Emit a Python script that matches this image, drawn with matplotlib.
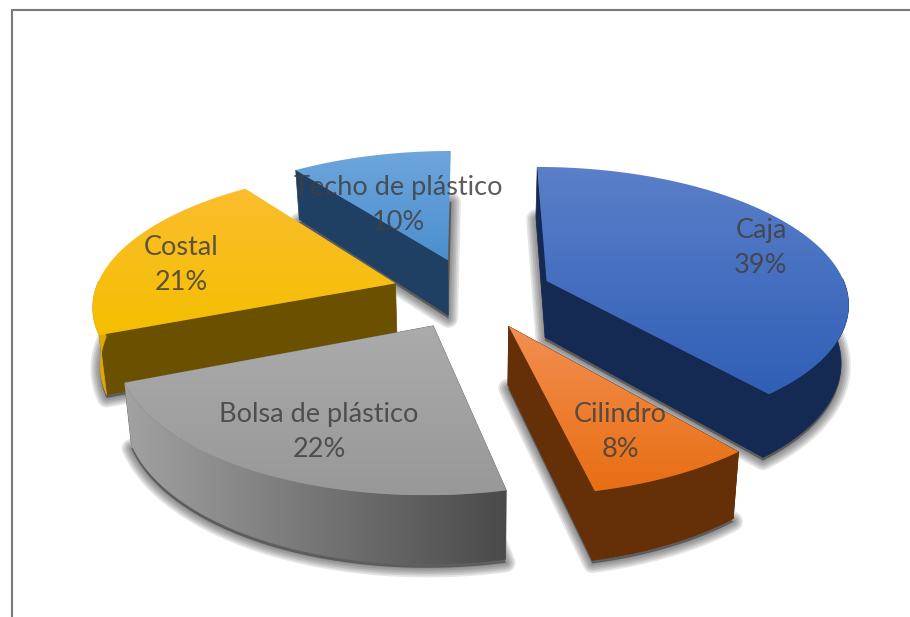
import numpy as np
import matplotlib
matplotlib.use("Agg")
import matplotlib.pyplot as plt
from matplotlib.colors import LinearSegmentedColormap
from matplotlib.patches import Polygon, PathPatch
from matplotlib.path import Path

plt.rcParams['font.family'] = ['Lato', 'DejaVu Sans']

# datos del grafico (valores estimados, las etiquetas los redondean)
categorias = ["Caja", "Cilindro", "Bolsa de plástico", "Costal", "Techo de plástico"]
valores = [39, 7.5, 22.4, 21, 10.1]

# colores: cara superior (arriba, abajo) y pared
sup_colores = [("#5b7fc9", "#2f5fb6"), ("#f28f52", "#e86e12"), ("#ababab", "#989898"),
               ("#fbbd2e", "#f4bf00"), ("#6ea6dc", "#4a8fcf")]
pared_colores = ["#142a52", "#652f08", "#666666", "#6b5000", "#1f3f63"]
borde_colores = ["#142a52", "#652f08", "#666666", "#dcaa08", "#1f3f63"]

# posicion de las etiquetas en pixeles
etiqueta_x = [761, 620, 319, 181, 398]
etiqueta_y = [248, 432, 432, 265, 205]

# parametros de la perspectiva
cx, cy = 472, 293
rx, ry = 301, 134
k = 0.146
h = 57
esc_fondo = 0.98
explota = 0.267


def proyecta(x, y, fondo=False):
    d = 1 + k * y
    sx = cx + rx * x / d
    sy = cy - ry * y / d
    if fondo:
        sx = cx + (sx - cx) * esc_fondo
        sy = sy + h / d
    return np.column_stack([sx, sy])


def degradado(ax, pts, c1, c2, z, horizontal=False):
    cmap = LinearSegmentedColormap.from_list("g", [c1, c2])
    g = np.linspace(0, 1, 256)
    g = g.reshape(1, -1) if horizontal else g.reshape(-1, 1)
    x0, x1 = pts[:, 0].min(), pts[:, 0].max()
    y0, y1 = pts[:, 1].min(), pts[:, 1].max()
    im = ax.imshow(g, cmap=cmap, extent=[x0, x1, y1, y0], aspect="auto",
                   origin="upper", zorder=z, interpolation="bilinear")
    parche = PathPatch(Path(np.vstack([pts, pts[0]])), fc="none", ec="none",
                       transform=ax.transData)
    ax.add_patch(parche)
    im.set_clip_path(parche)


fig = plt.figure(figsize=(9.10, 6.17), dpi=100)
ax = fig.add_axes([0, 0, 1, 1])
ax.axis("off")

# angulos de cada sector, desde arriba en sentido horario
total = sum(valores)
limites = np.radians(np.cumsum([0] + valores) * 360 / total)

orden = [4, 3, 0, 1, 2]
z = 2
for i in orden:
    a0, a1 = limites[i], limites[i + 1]
    medio = (a0 + a1) / 2
    ox, oy = explota * np.sin(medio), explota * np.cos(medio)
    t = np.linspace(a0, a1, 80)
    arco_x = ox + np.sin(t)
    arco_y = oy + np.cos(t)
    x = np.r_[ox, arco_x]
    y = np.r_[oy, arco_y]
    arriba = proyecta(x, y)
    abajo = proyecta(x, y, True)

    # sombra difusa bajo la base
    for lw in np.arange(14, 1, -2.5):
        ax.add_patch(Polygon(abajo + [0, 3], closed=True, fc="#303030", ec="#303030",
                             lw=lw, alpha=0.12, joinstyle="round", zorder=z))
    z += 1

    # paredes radiales, sin la que queda detras en los sectores de arriba a la izquierda
    for j in [1, -1]:
        if j == -1 and a1 > 1.5 * np.pi:
            continue
        cara = np.vstack([arriba[0], arriba[j], abajo[j], abajo[0]])
        ax.add_patch(Polygon(cara, closed=True, fc=pared_colores[i], ec=pared_colores[i],
                             lw=0.5, zorder=z))
    z += 1

    # pared curva, solo la parte que mira hacia delante
    vis = np.cos(t) < 0.03
    if vis.any():
        pared = np.vstack([proyecta(arco_x[vis], arco_y[vis]),
                           proyecta(arco_x[vis], arco_y[vis], True)[::-1]])
        if categorias[i] == "Bolsa de plástico":
            degradado(ax, pared, "#a2a2a2", "#4a4a4a", z, horizontal=True)
        else:
            ax.add_patch(Polygon(pared, closed=True, fc=borde_colores[i], ec=borde_colores[i],
                                 lw=0.5, zorder=z))
    z += 1

    # cara superior
    degradado(ax, arriba, sup_colores[i][0], sup_colores[i][1], z)
    z += 1

for i in range(len(categorias)):
    ax.text(etiqueta_x[i], etiqueta_y[i], f"{categorias[i]}\n{valores[i]:.0f}%",
            ha="center", va="center", fontsize=19.5, color="#404040", alpha=0.85,
            linespacing=1.49, zorder=z)

# marco del area del grafico
ax.plot([11.5, 11.5, 910], [617, 10, 10], color="#7a7a7a", lw=1.5, zorder=z, solid_joinstyle="miter")

ax.set_xlim(0, 910)
ax.set_ylim(617, 0)
fig.savefig("out.png", dpi=100, facecolor="white")
